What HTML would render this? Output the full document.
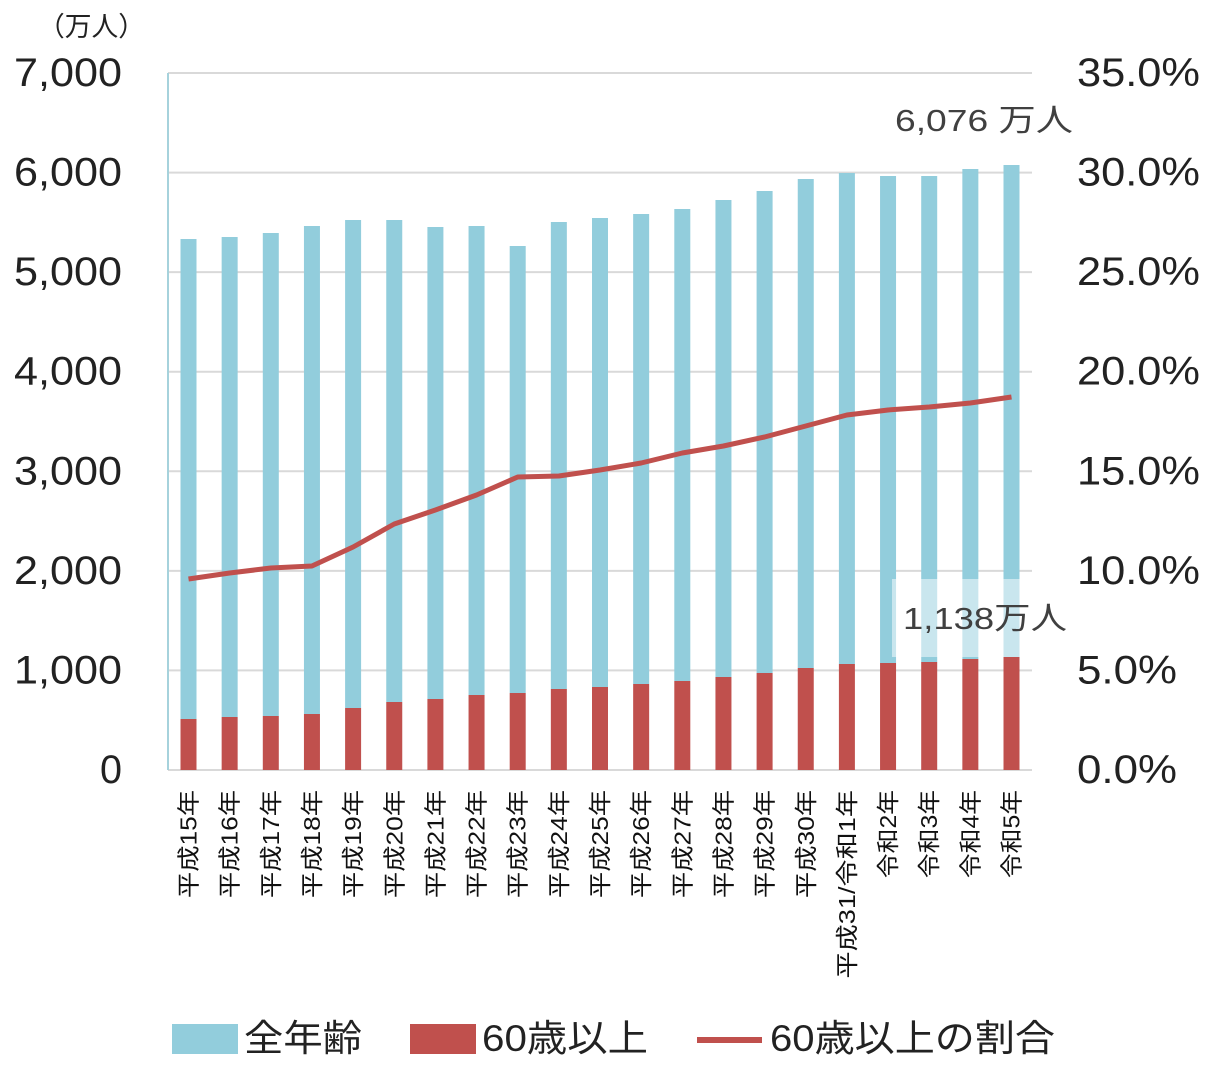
<!DOCTYPE html>
<html><head><meta charset="utf-8"><style>
body{margin:0;background:#fff}
svg text{font-family:"Liberation Sans","Noto Sans CJK JP",sans-serif}
</style></head><body>
<svg id="s" width="1222" height="1078" xmlns="http://www.w3.org/2000/svg"></svg>
<script>
const s=document.getElementById('s');let h='';
function T(x,y,len,size,fill,str,extra){return `<text x="${x}" y="${y}" textLength="${len}" lengthAdjust="spacingAndGlyphs" font-size="${size}" fill="${fill}" ${extra||''}>${str}</text>`;}
for(let i=0;i<8;i++){const y=770-i*99.57;
 if(i>0)h+=`<line x1="168" x2="1032" y1="${y}" y2="${y}" stroke="#d9d9d9" stroke-width="2"/>`;
 const lab=(i*1000).toLocaleString('en-US');
 const w=lab.length==1?22:108;
 h+=T(122-w,y+13,w,40,'#222',lab);
 const r=(i*5).toFixed(1)+'%';
 const rw=r.length==5?123:100;
 h+=T(1077,y+13,rw,40,'#222',r);}
h+=`<line x1="168" x2="1032" y1="770" y2="770" stroke="#d9d9d9" stroke-width="2"/>`;
h+=`<line x1="168" x2="168" y1="73" y2="770" stroke="#a6d2dc" stroke-width="2"/>`;
const tops=[239,237,233,226,220,220,227,226,246,222,218,214,209,200,191,179,173,176,176,169,165];
const reds=[719,717,716,714,708,702,699,695,693,689,687,684,681,677,673,668,664,663,662,659,657];
const ln=[579,573,568,566,547,524,510,495,477,476,470,463,453,446,437,426,415,410,407,403,397];
const labs=['平成15年','平成16年','平成17年','平成18年','平成19年','平成20年','平成21年','平成22年','平成23年','平成24年','平成25年','平成26年','平成27年','平成28年','平成29年','平成30年','平成31/令和1年','令和2年','令和3年','令和4年','令和5年'];
let pts=[];
for(let i=0;i<21;i++){const cx=188.5+i*41.15;
 h+=`<rect x="${cx-8}" y="${tops[i]}" width="16" height="${reds[i]-tops[i]}" fill="#92cddc"/>`;
 h+=`<rect x="${cx-8}" y="${reds[i]}" width="16" height="${770-reds[i]}" fill="#c0504d"/>`;
 pts.push(cx+','+ln[i]);
 const L=labs[i];let len=0;for(const c of L){len+=/[0-9]/.test(c)?20:(c=='/'?15:22.7);}
 h+=`<text transform="translate(${cx+8},790) rotate(-90)" text-anchor="end" textLength="${len}" lengthAdjust="spacingAndGlyphs" font-size="23" fill="#111">${L}</text>`;}
h+=`<rect x="892" y="579" width="128" height="78" fill="#fff" fill-opacity="0.5"/>`;
h+=`<polyline points="${pts.join(' ')}" fill="none" stroke="#c0504d" stroke-width="5" stroke-linejoin="round"/>`;
h+=T(903,629,164,31,'#404040','1,138万人');
h+=T(895,131,178,31,'#404040','6,076 万人');
h+=T(38,36,107,27,'#222','（万人）');
h+=`<rect x="172" y="1024" width="66" height="30" fill="#92cddc"/>`+T(244,1051,118,37,'#222','全年齢');
h+=`<rect x="410" y="1024" width="66" height="30" fill="#c0504d"/>`+T(482,1051,166,37,'#222','60歳以上');
h+=`<line x1="697" x2="762" y1="1040" y2="1040" stroke="#c0504d" stroke-width="6"/>`+T(770,1051,285,37,'#222','60歳以上の割合');
s.innerHTML=h;
</script>
</body></html>
